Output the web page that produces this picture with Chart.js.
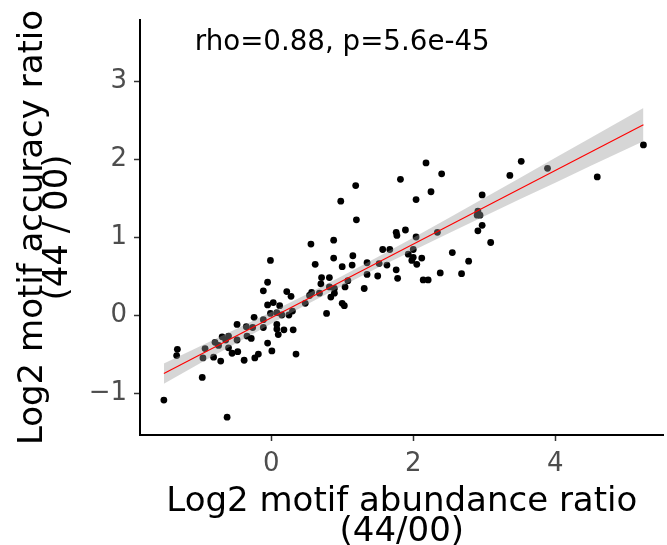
<!DOCTYPE html>
<html>
<head>
<meta charset="utf-8">
<script src="https://cdn.jsdelivr.net/npm/chart.js@4/dist/chart.umd.min.js"></script>
<style>
  html, body { margin: 0; padding: 0; background: #ffffff; }
  #wrap { width: 667px; height: 545px; position: relative; }
</style>
</head>
<body>
<div id="wrap"><canvas id="c" width="667" height="545"></canvas></div>
<script>
// ---- data ----
const abundanceX = [
  -1.51,-0.62,-0.97,-1.33,-1.32,-0.93,-0.96,-0.81,-0.71,-0.79,
  -0.74,-0.69,-0.64,-0.60,-0.60,-0.55,-0.47,-0.48,-0.48,-0.38,
  -0.35,-0.34,-0.28,-0.24,-0.26,-0.23,-0.18,-0.11,-0.11,-0.05,
  -0.05,0.01,0.03,-0.01,0.08,0.12,0.08,0.08,0.10,0.18,
  0.15,0.22,0.28,0.25,0.30,0.31,0.35,-0.11,-0.05,-0.01,
  0.56,0.88,0.62,0.88,1.15,1.00,1.14,1.35,1.57,1.67,
  1.52,1.63,1.76,1.78,1.35,1.50,1.31,0.71,0.82,0.70,
  1.08,1.04,0.89,0.82,0.89,0.84,0.68,0.57,0.54,0.48,
  1.00,1.03,0.78,1.19,0.98,1.20,1.82,2.40,2.25,2.04,
  1.76,1.77,1.89,2.04,2.34,2.00,1.93,2.00,2.12,2.05,
  1.98,2.14,2.21,2.38,2.18,3.52,3.36,2.97,2.91,2.90,
  2.94,2.97,2.91,3.09,2.55,2.78,2.68,3.89,4.59,5.24
];
const accuracyY = [
  -1.09,-1.31,-0.80,-0.52,-0.44,-0.43,-0.55,-0.54,-0.59,-0.35,
  -0.39,-0.28,-0.32,-0.27,-0.42,-0.49,-0.47,-0.32,-0.12,-0.58,
  -0.15,-0.27,-0.30,-0.03,-0.16,-0.55,-0.50,-0.06,-0.16,0.13,
  -0.36,-0.46,0.16,0.02,0.03,0.12,-0.12,-0.18,-0.25,-0.19,
  0.00,0.30,0.24,0.00,0.05,-0.19,-0.50,0.31,0.42,0.70,
  0.91,0.96,0.65,0.73,0.76,0.62,0.64,0.67,0.84,0.84,
  0.66,0.64,0.58,0.47,0.52,0.50,0.34,0.48,0.48,0.40,
  0.44,0.36,0.34,0.36,0.28,0.23,0.28,0.29,0.25,0.15,
  0.15,0.12,0.02,1.66,1.46,1.22,1.74,1.81,1.58,1.48,
  1.06,1.02,1.09,1.00,1.06,0.84,0.78,0.74,0.73,0.65,
  0.70,0.45,0.45,0.54,1.95,1.97,1.79,1.54,1.33,1.28,
  1.28,1.15,1.08,0.93,0.80,0.69,0.53,1.88,1.77,2.18
];
// fitted line (end points) and confidence band
const fitX = [-1.51, 5.24];
const fitY = [-0.75, 2.44];
const bandX    = [-1.51,-1.0,-0.5,0.0,0.5,1.0,1.5,2.0,2.5,3.0,3.5,4.0,4.5,5.24];
const bandLow  = [-0.880,-0.618,-0.364,-0.112,0.135,0.373,0.605,0.828,1.049,1.267,1.483,1.697,1.913,2.229];
const bandHigh = [-0.620,-0.400,-0.182,0.040,0.267,0.501,0.743,0.992,1.245,1.499,1.757,2.015,2.273,2.655];
const xTicks = [0, 2, 4];
const yTicks = [-1, 0, 1, 2, 3];
const xRange = [-1.846, 5.524];
const yRange = [-1.538, 3.782];
const xTitle = ['Log2 motif abundance ratio', '(44/00)'];
const yTitle = ['Log2 motif accuracy ratio', '(44 / 00)'];
const annotText = 'rho=0.88, p=5.6e-45';
const annotX = 1.0, annotY = 3.49;

// ---- build chart ----
const FONT = '"DejaVu Sans", "Liberation Sans", sans-serif';
const pts = abundanceX.map((x, i) => ({ x: x, y: accuracyY[i] }));
const fitPts = fitX.map((x, i) => ({ x: x, y: fitY[i] }));
const hiPts = bandX.map((x, i) => ({ x: x, y: bandHigh[i] }));
const loPts = bandX.map((x, i) => ({ x: x, y: bandLow[i] }));
const fmt = v => (v < 0 ? '\u2212' + Math.abs(v) : String(v));

const annotPlugin = {
  id: 'annot',
  afterDatasetsDraw(chart) {
    const { ctx, scales } = chart;
    ctx.save();
    ctx.font = '27.7px ' + FONT;
    ctx.fillStyle = '#000000';
    ctx.textAlign = 'center';
    ctx.textBaseline = 'middle';
    ctx.fillText(annotText, scales.x.getPixelForValue(annotX), scales.y.getPixelForValue(annotY));
    ctx.restore();
  }
};

new Chart(document.getElementById('c'), {
  type: 'scatter',
  data: {
    datasets: [
      { label: 'fit', data: fitPts, showLine: true, borderColor: '#ff0000', borderWidth: 1.1,
        pointRadius: 0, fill: false, order: 0 },
      { label: 'bandHigh', data: hiPts, showLine: true, borderWidth: 0, borderColor: 'rgba(0,0,0,0)',
        backgroundColor: 'rgba(153,153,153,0.4)', pointRadius: 0, fill: '+1', order: 1, tension: 0 },
      { label: 'bandLow', data: loPts, showLine: true, borderWidth: 0, borderColor: 'rgba(0,0,0,0)',
        backgroundColor: 'rgba(0,0,0,0)', pointRadius: 0, fill: false, order: 1, tension: 0 },
      { label: 'points', data: pts, showLine: false, pointRadius: 3.4, pointHoverRadius: 3.4,
        pointBackgroundColor: '#000000', pointBorderWidth: 0, order: 2 }
    ]
  },
  options: {
    responsive: false,
    animation: false,
    devicePixelRatio: 1,
    layout: { padding: { top: 20, right: 0, bottom: 0, left: 0 } },
    plugins: { legend: { display: false }, tooltip: { enabled: false } },
    scales: {
      x: {
        type: 'linear', min: xRange[0], max: xRange[1],
        afterBuildTicks: s => { s.ticks = xTicks.map(v => ({ value: v })); },
        afterFit: s => { s.height = 110; },
        border: { display: true, color: '#000000', width: 2 },
        grid: { display: true, drawOnChartArea: false, drawTicks: true, tickLength: 6, tickColor: '#333333', tickWidth: 1.5 },
        ticks: { color: '#4d4d4d', font: { family: FONT, size: 26, lineHeight: 1 }, padding: 10, maxRotation: 0, callback: fmt },
        title: { display: true, text: xTitle, color: '#000000', font: { family: FONT, size: 34, lineHeight: 0.89 }, padding: { top: 0, bottom: -2.5 } }
      },
      y: {
        type: 'linear', min: yRange[0], max: yRange[1],
        afterBuildTicks: s => { s.ticks = yTicks.map(v => ({ value: v })); },
        afterFit: s => { s.width = 140; },
        border: { display: true, color: '#000000', width: 2 },
        grid: { display: true, drawOnChartArea: false, drawTicks: true, tickLength: 6, tickColor: '#333333', tickWidth: 1.5 },
        ticks: { color: '#4d4d4d', font: { family: FONT, size: 26, lineHeight: 1 }, padding: 7, callback: fmt },
        title: { display: true, text: yTitle, color: '#000000', font: { family: FONT, size: 34, lineHeight: 0.735 }, padding: { top: 21, bottom: 0 } }
      }
    }
  },
  plugins: [annotPlugin]
});
</script>
</body>
</html>
